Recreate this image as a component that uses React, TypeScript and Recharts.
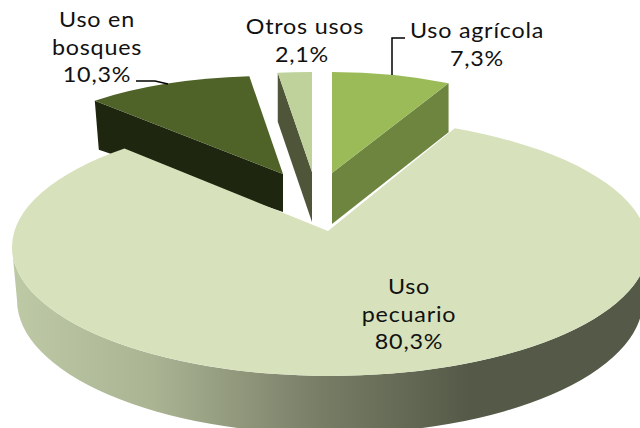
import { PieChart, Pie } from 'recharts';

const categories = ['Uso en bosques', 'Otros usos', 'Uso agrícola', 'Uso pecuario'];
const shares = [10.3, 2.1, 7.3, 80.3];

const chartData = categories.map((name, i) => ({ name, value: shares[i] }));

// pie starts at 12 o'clock with "Uso agrícola"; pecuario goes last so it paints on top
const START_ANGLE = 90 + (shares[0] + shares[1]) * 3.6;

// ox/oy: explosion from pie centre, ex/ey: ellipse centre relative to apex
const sliceStyles: Record<string, any> = {
    'Uso en bosques': { ox: -45, oy: -57, ex: -13, ey: 5, rx: 270, ry: 103, tilt: 0.385, top: '#4f6228', wall: '#1f2610', depthA: 38, depthR: 49, wallEdge: 'start', skew: 4 },
    'Otros usos': { ox: -16, oy: -59, ex: -2, ey: 0, rx: 270, ry: 100, tilt: 0.385, top: '#bfd29b', wall: '#4f5539', depthA: 50, depthR: 49, wallEdge: 'start', skew: 0 },
    'Uso agrícola': { ox: 4, oy: -58, ex: 0, ey: 20, rx: 276, ry: 121, tilt: 0.38, top: '#9bbb59', wall: '#6e8540', depthA: 51, depthR: 49, wallEdge: 'end', skew: 0 },
    'Uso pecuario': { ox: 0, oy: 0, ex: 2, ey: 16, rx: 318, ry: 129, tilt: 0.4, top: '#d7e2bc' },
};

const labelStyles: Record<string, any> = {
    'Uso en bosques': { lines: ['Uso en', 'bosques'], x: 97, y: 27, leader: '136,81 155,81 168,84' },
    'Otros usos': { lines: ['Otros usos'], x: 305, y: 34, pctX: 302 },
    'Uso agrícola': { lines: ['Uso agrícola'], x: 477, y: 38, leader: '405,38 392,38 392,75' },
    'Uso pecuario': { lines: ['Uso', 'pecuario'], x: 409, y: 294 },
};

const rimPoint = (ax: number, ay: number, deg: number, s: any) => {
    const rad = (deg * Math.PI) / 180;
    const dx = Math.cos(rad);
    const dy = -s.tilt * Math.sin(rad);
    const fx = -s.ex;
    const fy = -s.ey;
    const a = (dx * dx) / (s.rx * s.rx) + (dy * dy) / (s.ry * s.ry);
    const b = (2 * fx * dx) / (s.rx * s.rx) + (2 * fy * dy) / (s.ry * s.ry);
    const c = (fx * fx) / (s.rx * s.rx) + (fy * fy) / (s.ry * s.ry) - 1;
    const t = (-b + Math.sqrt(b * b - 4 * a * c)) / (2 * a);
    return { x: ax + t * dx, y: ay + t * dy };
};

function Slice3D(props: any) {
    const { cx, cy, startAngle, endAngle, name } = props;
    const s = sliceStyles[name];
    const ax = cx + s.ox;
    const ay = cy + s.oy;
    const p1 = rimPoint(ax, ay, startAngle, s);
    const p2 = rimPoint(ax, ay, endAngle, s);
    const large = Math.abs(startAngle - endAngle) > 180 ? 1 : 0;
    const topPath = `M${ax},${ay} L${p1.x},${p1.y} A${s.rx},${s.ry} 0 ${large} 1 ${p2.x},${p2.y} Z`;

    if (name === 'Uso pecuario') {
        const ex = ax + s.ex;
        const ey = ay + s.ey;
        const wallPath =
            `M${ex - s.rx},${ey} A${s.rx},${s.ry} 0 0 0 ${ex + s.rx},${ey} ` +
            `L${ex + 313},${ey + 53} A313,134 0 0 1 ${ex - 313},${ey + 53} Z`;
        return (
            <g>
                <path d={wallPath} fill="url(#rimGradient)" />
                <path d={topPath} fill={s.top} />
            </g>
        );
    }

    // the visible cut face runs along whichever edge faces the viewer
    const edge = s.wallEdge === 'end' ? p2 : p1;
    const wallPoints = [
        `${edge.x},${edge.y}`,
        `${ax},${ay}`,
        `${ax},${ay + s.depthA}`,
        `${edge.x + s.skew},${edge.y + s.depthR}`,
    ].join(' ');
    return (
        <g>
            <polygon points={wallPoints} fill={s.wall} />
            <path d={topPath} fill={s.top} />
        </g>
    );
}

function SliceLabel(props: any) {
    const { name, value } = props;
    const l = labelStyles[name];
    const pct = `${String(value).replace('.', ',')}%`;
    const all = [...l.lines, pct];
    return (
        <g>
            {l.leader && <polyline points={l.leader} fill="none" stroke="#000" strokeWidth={1.5} />}
            {all.map((t: string, i: number) => (
                <text
                    key={t}
                    transform={`translate(${i === all.length - 1 && l.pctX ? l.pctX : l.x},${l.y + i * 27.5}) scale(1.11,1)`}
                    textAnchor="middle"
                    fill="#111"
                    stroke="none"
                    fontFamily="Lato"
                    fontSize={21}
                    letterSpacing={0.7}
                >
                    {t}
                </text>
            ))}
        </g>
    );
}

export default function App() {
    return (
        <div style={{ position: 'absolute', left: 0, top: 0, width: 640, height: 428, overflow: 'hidden', background: '#fff' }}>
            <PieChart width={640} height={428} margin={{ top: 0, right: 0, bottom: 0, left: 0 }}>
                <defs>
                    <linearGradient id="rimGradient" gradientUnits="userSpaceOnUse" x1={17} y1={0} x2={470} y2={0}>
                        <stop offset="0" stopColor="#bdc8a5" />
                        <stop offset="0.3" stopColor="#aab493" />
                        <stop offset="0.67" stopColor="#787d66" />
                        <stop offset="1" stopColor="#555a48" />
                    </linearGradient>
                </defs>
                <Pie
                    data={chartData}
                    dataKey="value"
                    nameKey="name"
                    cx={328}
                    cy={231}
                    outerRadius={150}
                    startAngle={START_ANGLE}
                    endAngle={START_ANGLE - 360}
                    stroke="none"
                    shape={Slice3D}
                    label={SliceLabel}
                    labelLine={false}
                    isAnimationActive={false}
                />
            </PieChart>
        </div>
    );
}
